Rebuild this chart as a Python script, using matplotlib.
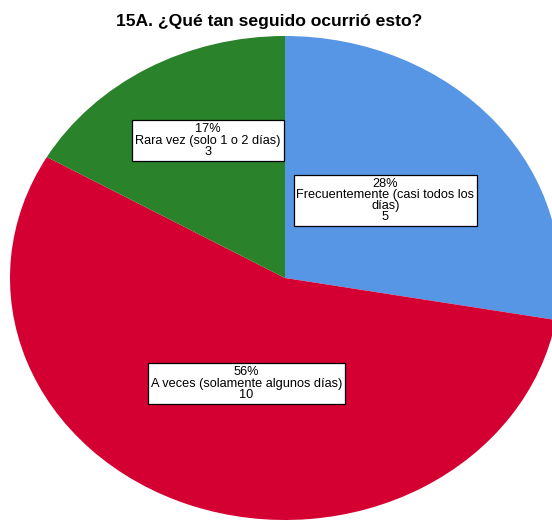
import matplotlib.pyplot as plt

# Data
categories = ['Frecuentemente (casi todos los\ndías)',
              'A veces (solamente algunos días)',
              'Rara vez (solo 1 o 2 días)']
counts = [5, 10, 3]
percent_labels = ['28%', '56%', '17%']
colors = ['#5796E4', '#D50032', '#2A822A']
label_pos = [(0.365, 0.32), (-0.14, -0.436), (-0.28, 0.568)]

plt.rcParams['font.family'] = ['Liberation Sans', 'DejaVu Sans']

fig = plt.figure(figsize=(5.52, 5.21), dpi=100)
ax = fig.add_axes([10 / 552, 1 / 521, 550 / 552, 484 / 521])

# Plotting
ax.pie(counts, colors=colors, startangle=90, counterclock=False,
       wedgeprops=dict(linewidth=0))
ax.set_aspect('auto')
ax.set_xlim(-1, 1)
ax.set_ylim(-1, 1)
ax.axis('off')

for cat, n, pct, (x, y) in zip(categories, counts, percent_labels, label_pos):
    ax.text(x, y, f'{pct}\n{cat}\n{n}', ha='center', va='center',
            fontsize=9.2, linespacing=0.92,
            bbox=dict(boxstyle='square,pad=0.22', fc='white', ec='black', lw=0.9))

# Customization
fig.text(0.487, 0.958, '15A. ¿Qué tan seguido ocurrió esto?', ha='center', va='center',
         fontsize=12.6, fontweight='bold')

fig.savefig('out.png', dpi=100)
